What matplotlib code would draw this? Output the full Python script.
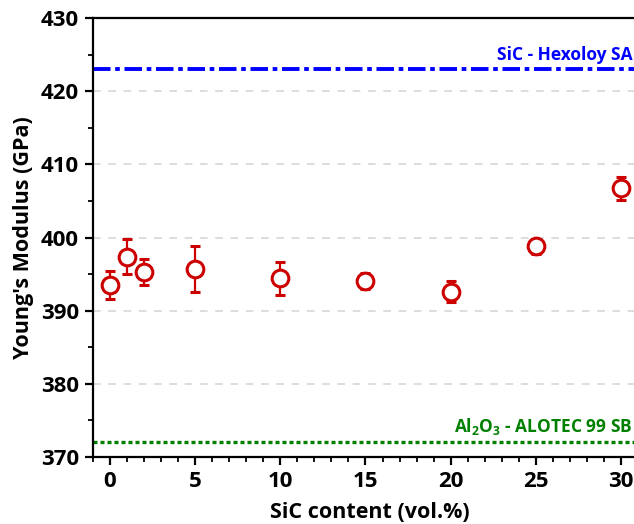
import matplotlib
matplotlib.use('Agg')
import matplotlib.pyplot as plt
from matplotlib.ticker import MultipleLocator

# SiC content (vol.%) and Young's modulus (GPa)
sic_content = [0, 1, 2, 5, 10, 15, 20, 25, 30]
modulus = [393.5, 397.4, 395.3, 395.7, 394.4, 394.0, 392.6, 398.8, 406.7]
modulus_err = [1.9, 2.4, 1.75, 3.15, 2.2, 1.1, 1.4, 1.0, 1.6]

# reference materials
ref_names = ['SiC - Hexoloy SA', r'Al$_2$O$_3$ - ALOTEC 99 SB']
ref_values = [423.0, 372.0]

plt.rcParams['font.family'] = ['Open Sans', 'DejaVu Sans']
plt.rcParams['mathtext.fontset'] = 'custom'
plt.rcParams['mathtext.rm'] = 'Open Sans:bold'
plt.rcParams['mathtext.it'] = 'Open Sans:bold'
plt.rcParams['mathtext.bf'] = 'Open Sans:bold'

fig = plt.figure(figsize=(6.34, 5.24), dpi=100)
ax = fig.add_axes([93 / 634, 1 - 457 / 524, (646.5 - 93) / 634, (457 - 18) / 524])

ax.set_xlim(-1, 31.5)
ax.set_ylim(370, 430)

# grid lines at major y ticks
for yv in [380, 390, 400, 410, 420]:
    ax.axhline(yv, color='#d3d3d3', lw=1.1, dashes=(5, 5), zorder=0)

# reference lines
ax.axhline(ref_values[0], color='#0000ff', lw=2.8, dashes=(4.5, 1.2, 1.2, 1.2), zorder=1)
ax.axhline(ref_values[1], color='#008000', lw=2.4, dashes=(1.2, 0.9), zorder=1)
ax.annotate(ref_names[0], xy=(633, 423.0), xycoords=('figure pixels', 'data'),
            xytext=(0, 4), textcoords='offset points',
            ha='right', va='bottom', color='#0000ff', fontsize=12.5, fontweight='bold')
ax.annotate(ref_names[1], xy=(633, 372.0), xycoords=('figure pixels', 'data'),
            xytext=(0, 4), textcoords='offset points',
            ha='right', va='bottom', color='#008000', fontsize=12.5, fontweight='bold')

ax.errorbar(sic_content, modulus, yerr=modulus_err, fmt='o', color='#cc0000',
            mfc='white', mec='#cc0000', ms=12, mew=2.2, elinewidth=1.6,
            capsize=3.5, capthick=1.6, zorder=3)

ax.xaxis.set_major_locator(MultipleLocator(5))
ax.xaxis.set_minor_locator(MultipleLocator(1))
ax.yaxis.set_major_locator(MultipleLocator(10))
ax.yaxis.set_minor_locator(MultipleLocator(5))
ax.tick_params(which='major', direction='out', length=6, width=1.6, labelsize=16, pad=4)
ax.tick_params(which='minor', direction='out', length=3.5, width=1.3)
for lab in ax.get_xticklabels() + ax.get_yticklabels():
    lab.set_fontweight('bold')

for side in ['left', 'top', 'bottom']:
    ax.spines[side].set_linewidth(1.6)
ax.spines['right'].set_visible(False)

ax.set_xlabel('SiC content (vol.%)', fontsize=15.5, fontweight='bold', labelpad=7)
ax.set_ylabel("Young's Modulus (GPa)", fontsize=15.5, fontweight='bold', labelpad=5)

fig.savefig('out.png', dpi=100)
